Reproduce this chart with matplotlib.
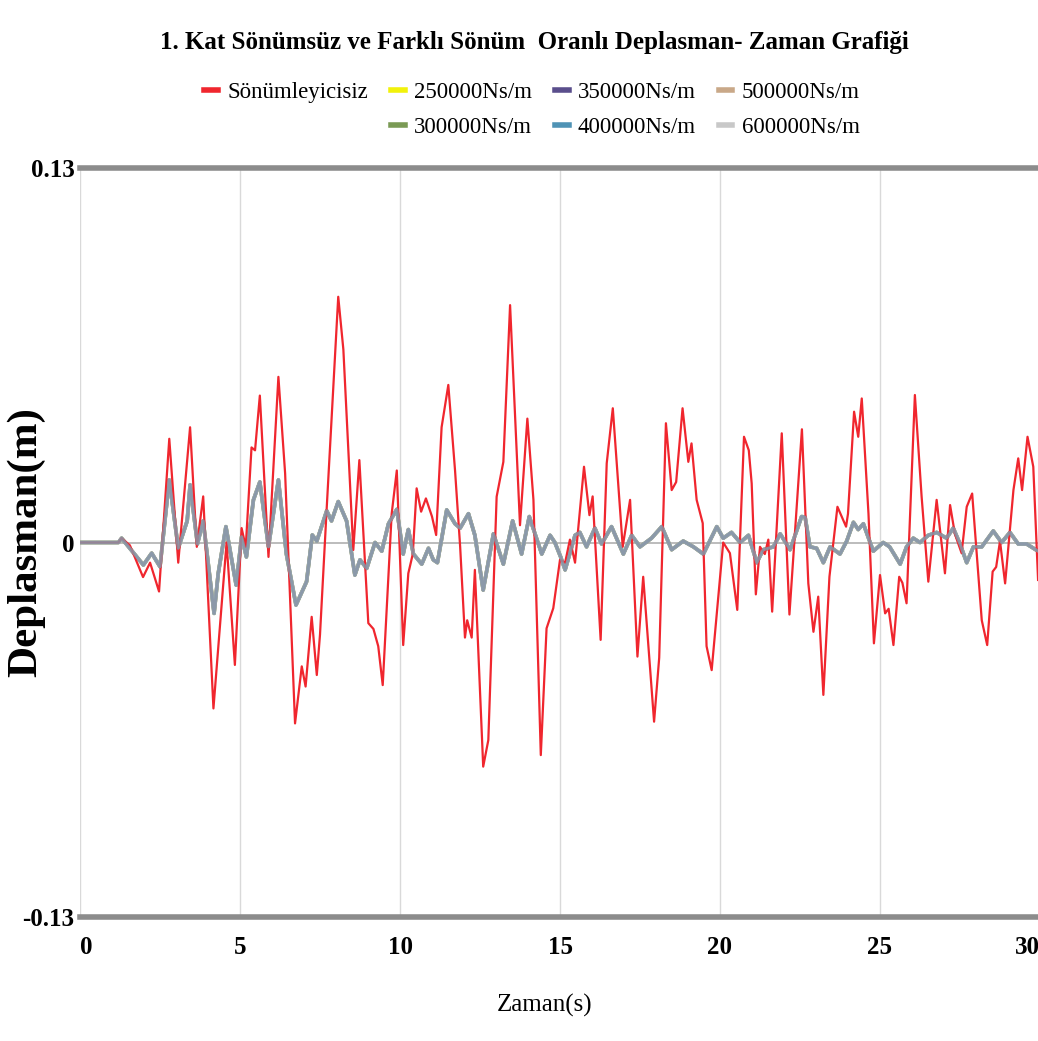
import matplotlib
matplotlib.use("Agg")
import matplotlib.pyplot as plt
from matplotlib.lines import Line2D

# ---------------- data ----------------
title = "1. Kat Sönümsüz ve Farklı Sönüm  Oranlı Deplasman- Zaman Grafiği"
x_label = "Zaman(s)"
y_label = "Deplasman(m)"
x_ticks = [0, 5, 10, 15, 20, 25, 30]
y_ticks = [-0.13, 0, 0.13]
y_tick_labels = ["-0.13", "0", "0.13"]

series_names = ["Sönümleyicisiz", "250000Ns/m", "300000Ns/m", "350000Ns/m",
                "400000Ns/m", "500000Ns/m", "600000Ns/m"]

# undamped response
undamped_t = [0.0, 1.2, 1.30, 1.56, 1.97, 2.19, 2.47, 2.79, 3.07, 3.44, 3.65, 3.85,
              4.17, 4.58, 4.84, 5.05, 5.18, 5.36, 5.47, 5.62, 5.89, 6.20, 6.41,
              6.72, 6.93, 7.05, 7.24, 7.40, 7.50, 7.71, 8.07, 8.23, 8.54, 8.73,
              9.01, 9.17, 9.32, 9.46, 9.74, 9.90, 10.10, 10.26, 10.40, 10.52,
              10.66, 10.81, 11.00, 11.13, 11.30, 11.51, 11.72, 11.88, 12.03,
              12.10, 12.24, 12.34, 12.60, 12.76, 13.02, 13.23, 13.44, 13.75,
              13.98, 14.17, 14.40, 14.58, 14.79, 15.00, 15.16, 15.31, 15.47,
              15.75, 15.92, 16.02, 16.27, 16.46, 16.65, 16.96, 17.19, 17.42,
              17.60, 17.94, 18.10, 18.31, 18.49, 18.63, 18.83, 19.01, 19.11,
              19.27, 19.46, 19.58, 19.74, 19.90, 20.10, 20.31, 20.54, 20.75,
              20.90, 20.99, 21.12, 21.25, 21.40, 21.51, 21.63, 21.93, 22.17,
              22.56, 22.76, 22.92, 23.07, 23.23, 23.42, 23.67, 23.94, 24.00,
              24.19, 24.32, 24.43, 24.64, 24.81, 25.00, 25.16, 25.27, 25.42,
              25.60, 25.70, 25.83, 26.09, 26.30, 26.51, 26.77, 27.03, 27.19,
              27.34, 27.55, 27.71, 27.88, 28.18, 28.35, 28.52, 28.63, 28.75,
              28.91, 29.17, 29.32, 29.44, 29.61, 29.79, 29.94]
undamped_y = [0.0, 0.0, 0.0015, -0.001, -0.012, -0.007, -0.017, 0.036, -0.007, 0.040,
              -0.0015, 0.016, -0.0576, 0.0, -0.0425, 0.005, -0.0015, 0.033, 0.032,
              0.051, -0.005, 0.0575, 0.024, -0.0628, -0.043, -0.050, -0.0258,
              -0.046, -0.032, 0.012, 0.0853, 0.067, -0.0026, 0.0286, -0.028,
              -0.030, -0.036, -0.0495, 0.010, 0.025, -0.0356, -0.0107, -0.004,
              0.0188, 0.0107, 0.0153, 0.009, 0.0026, 0.040, 0.0547, 0.025,
              -0.0015, -0.033, -0.027, -0.033, -0.0095, -0.0778, -0.0686, 0.0159,
              0.028, 0.0824, 0.006, 0.043, 0.0148, -0.0738, -0.0298, -0.0228,
              -0.0060, -0.007, 0.001, -0.007, 0.0263, 0.0095, 0.016, -0.0338,
              0.0275, 0.0466, -0.0015, 0.0148, -0.0396, -0.0119, -0.0622, -0.040,
              0.0414, 0.0182, 0.021, 0.0466, 0.028, 0.0344, 0.0148, 0.0067,
              -0.036, -0.0443, -0.0246, 0.0, -0.0037, -0.0234, 0.0367, 0.032,
              0.0205, -0.018, -0.0015, -0.004, 0.001, -0.024, 0.0379, -0.025,
              0.0393, -0.0142, -0.031, -0.0188, -0.0529, -0.0119, 0.0124, 0.0055,
              0.010, 0.0454, 0.0367, 0.050, 0.010, -0.035, -0.0113, -0.0246,
              -0.023, -0.0356, -0.0119, -0.014, -0.0211, 0.0512, 0.016, -0.0136,
              0.0148, -0.0107, 0.013, 0.003, -0.0037, 0.0124, 0.017, -0.027,
              -0.0356, -0.0101, -0.0085, 0.0005, -0.0142, 0.0182, 0.0292, 0.0182,
              0.0367, 0.0263, -0.013]

# damped responses (all damper values overlap on the chart)
damped_t = [0.0, 1.2, 1.30, 1.98, 2.24, 2.50, 2.79, 3.07, 3.35, 3.44, 3.67, 3.85,
            4.19, 4.32, 4.56, 4.88, 5.05, 5.20, 5.42, 5.62, 5.89, 6.20, 6.45,
            6.75, 7.08, 7.26, 7.40, 7.71, 7.86, 8.07, 8.33, 8.59, 8.75, 8.96,
            9.22, 9.43, 9.64, 9.90, 10.10, 10.26, 10.42, 10.68, 10.89, 11.04,
            11.17, 11.46, 11.72, 11.88, 12.14, 12.34, 12.60, 12.92, 13.23, 13.52,
            13.80, 14.04, 14.43, 14.69, 14.84, 15.02, 15.16, 15.47, 15.62, 15.83,
            16.09, 16.30, 16.61, 16.98, 17.24, 17.50, 17.86, 18.18, 18.49, 18.85,
            19.17, 19.48, 19.90, 20.10, 20.36, 20.63, 20.89, 21.15, 21.35, 21.67,
            21.88, 22.19, 22.55, 22.66, 22.81, 23.02, 23.23, 23.44, 23.75, 23.96,
            24.17, 24.32, 24.48, 24.79, 25.10, 25.30, 25.63, 25.83, 26.04, 26.25,
            26.51, 26.77, 27.08, 27.29, 27.50, 27.71, 27.92, 28.18, 28.54, 28.80,
            29.06, 29.32, 29.58, 29.94]
damped_y = [0.0, 0.0, 0.0015, -0.0078, -0.0037, -0.0084, 0.0217, -0.002, 0.0075,
            0.020, -0.0005, 0.0075, -0.0246, -0.0107, 0.0055, -0.0148, 0.002,
            -0.005, 0.0148, 0.021, -0.0015, 0.0217, -0.004, -0.0217, -0.0136,
            0.0026, 0.0005, 0.011, 0.0075, 0.0142, 0.0075, -0.0113, -0.006, -0.009,
            0.0, -0.003, 0.0065, 0.0115, -0.004, 0.0045, -0.004, -0.0075, -0.002,
            -0.006, -0.007, 0.0113, 0.0065, 0.005, 0.010, 0.0025, -0.0165, 0.003,
            -0.0075, 0.0075, -0.004, 0.009, -0.004, 0.0025, 0.0, -0.005, -0.0095,
            0.0025, 0.0035, -0.0015, 0.005, -0.0005, 0.0055, -0.004, 0.0025,
            -0.0015, 0.0015, 0.0055, -0.0025, 0.0005, -0.0015, -0.004, 0.0055,
            0.0015, 0.0035, 0.0, 0.0025, -0.007, -0.0025, -0.0015, 0.003, -0.0025,
            0.009, 0.0088, -0.0015, -0.002, -0.007, -0.0015, -0.004, 0.0005, 0.007,
            0.0045, 0.0065, -0.003, 0.0, -0.0015, -0.0075, -0.0015, 0.0015, 0.0,
            0.0025, 0.0035, 0.0015, 0.005, -0.0005, -0.007, -0.0015, -0.0015,
            0.004, 0.0, 0.0035, -0.0005, -0.0005, -0.003]

# ---------------- styling ----------------
serif = ["Liberation Serif", "DejaVu Serif"]
plt.rcParams["font.family"] = serif

W, H = 1038, 1041
fig = plt.figure(figsize=(W / 100, H / 100), dpi=100)
fig.patch.set_facecolor("white")
ax = fig.add_axes([80 / W, 1 - 917 / H, 960 / W, (917 - 168) / H])

ax.set_xlim(0, 30)
ax.set_ylim(-0.13, 0.13)

# gridlines
for xv in x_ticks:
    ax.axvline(xv, color="#d9d9d9", lw=1.0, zorder=0)
ax.axhline(0, color="#b0b0b0", lw=1.2, zorder=0)
ax.axhline(0.13, color="#8c8c8c", lw=4.0, zorder=1, clip_on=False)
ax.axhline(-0.13, color="#8c8c8c", lw=4.0, zorder=1, clip_on=False)

for s in ax.spines.values():
    s.set_visible(False)

# damped series drawn first, undamped on top
damped_colors = {
    "250000Ns/m": "#f2f20a",
    "300000Ns/m": "#7a9a55",
    "350000Ns/m": "#5a4e8c",
    "500000Ns/m": "#c9a888",
    "400000Ns/m": "#4f93b5",
    "600000Ns/m": "#c8c8c8",
}
handles = {}
for name in ["250000Ns/m", "300000Ns/m", "350000Ns/m", "500000Ns/m",
             "400000Ns/m", "600000Ns/m"]:
    ln, = ax.plot(damped_t, damped_y, color=damped_colors[name], lw=2.6,
                  alpha=0.55, zorder=2, solid_joinstyle="round")
    handles[name] = ln

red_ln, = ax.plot(undamped_t, undamped_y, color="#f0262e", lw=1.6, zorder=3)
handles["Sönümleyicisiz"] = red_ln
# grey visible over the red where they overlap
ax.plot(damped_t, damped_y, color="#8796a8", lw=2.2, alpha=0.85, zorder=4)

# ticks
ax.set_xticks(x_ticks)
ax.set_xticklabels([str(v) for v in x_ticks])
ax.set_yticks(y_ticks)
ax.set_yticklabels(y_tick_labels)
ax.tick_params(axis="both", length=0, labelsize=18)
ax.tick_params(axis="x", pad=14)
ax.tick_params(axis="y", pad=4)
for lab in ax.get_xticklabels() + ax.get_yticklabels():
    lab.set_fontweight("bold")
xl = ax.get_xticklabels()
xl[0].set_ha("left")
xl[-1].set_ha("right")

ax.set_xlabel(x_label, fontsize=18)
ax.xaxis.set_label_coords((545 - 80) / 960, -0.103)
ax.set_ylabel(y_label, fontsize=31, fontweight="bold")
ax.yaxis.set_label_coords(-0.036, 0.5)

fig.text(534 / W, 1 - 42 / H, title, ha="center", va="center",
         fontsize=18, fontweight="bold")

# legend (Excel-like layout)
blank = Line2D([], [], color="none")
leg_handles = [handles["Sönümleyicisiz"], blank,
               handles["250000Ns/m"], handles["300000Ns/m"],
               handles["350000Ns/m"], handles["400000Ns/m"],
               handles["500000Ns/m"], handles["600000Ns/m"]]
leg_labels = ["Sönümleyicisiz", "",
              "250000Ns/m", "300000Ns/m",
              "350000Ns/m", "400000Ns/m",
              "500000Ns/m", "600000Ns/m"]
leg = fig.legend(leg_handles, leg_labels, ncol=4, loc="center",
                 bbox_to_anchor=(532 / W, 1 - 110 / H), frameon=False,
                 fontsize=16.5, handlelength=0.6, handletextpad=0.4,
                 columnspacing=1.0, labelspacing=0.6)
for h in leg.legend_handles:
    h.set_alpha(1)
    h.set_linewidth(4)

fig.savefig("out.png", dpi=100, facecolor="white")
